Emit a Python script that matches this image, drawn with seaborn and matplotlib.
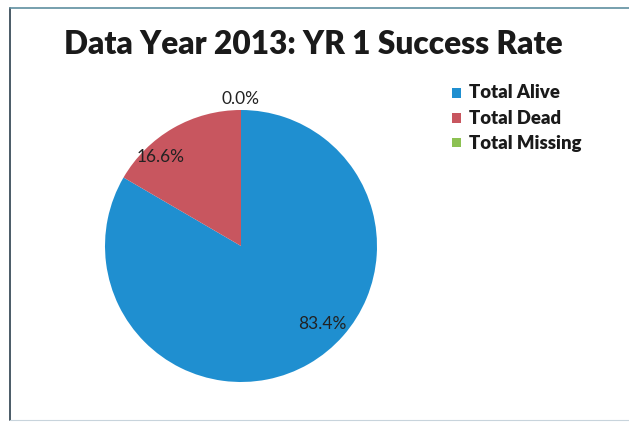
import matplotlib
matplotlib.use("Agg")
import matplotlib.pyplot as plt
from matplotlib.patches import Rectangle
from matplotlib.lines import Line2D
import numpy as np
import seaborn as sns

# Data
categories = ["Total Alive", "Total Dead", "Total Missing"]
percentages = [83.4, 16.6, 0.0]
title = "Data Year 2013: YR 1 Success Rate"

sns.set_theme(style="white")
plt.rcParams["font.family"] = ["Lato", "DejaVu Sans"]

colors = ["#1f8fd0", "#c8565f", "#8cc152"]

W, H = 629, 423
fig = plt.figure(figsize=(W / 100, H / 100), dpi=100)
fig.patch.set_facecolor("white")

# Chart frame
frame_col = "#4a5a66"
fig.add_artist(Line2D([10 / W, 10 / W], [1 - 8 / H, 1 - 420 / H], color=frame_col, lw=1.4,
                      transform=fig.transFigure))
fig.add_artist(Line2D([10 / W, 1.0], [1 - 8 / H, 1 - 8 / H], color="#5f8fa0", lw=1.2,
                      transform=fig.transFigure))
fig.add_artist(Line2D([10 / W, 1.0], [1 - 420 / H, 1 - 420 / H], color="#c8d4dc", lw=0.8,
                      transform=fig.transFigure))

# Pie axes (centre ~ (241, 246) px, radius ~136 px)
cx, cy, r = 241, 246, 136
ax = fig.add_axes([(cx - r) / W, (H - cy - r) / H, 2 * r / W, 2 * r / H])
wedges, _ = ax.pie(percentages, colors=colors, startangle=90, counterclock=False,
                   radius=1.0, wedgeprops=dict(linewidth=0))
ax.set_xlim(-1, 1)
ax.set_ylim(-1, 1)
ax.set_aspect("equal")
ax.axis("off")

# Data labels (angle in degrees, radius as fraction of pie radius)
label_pos = [(-44, 0.83), (132, 0.88), (90, 1.08)]
for val, (ang, rr) in zip(percentages, label_pos):
    a = np.deg2rad(ang)
    ax.text(rr * np.cos(a), rr * np.sin(a), f"{val:.1f}%", ha="center", va="center",
            fontsize=12.5, color="#222222", clip_on=False)

fig.text(313 / W, 1 - 45 / H, title, ha="center", va="center", fontsize=22.8,
         fontweight="heavy", color="#1a1a1a")

# Legend
leg_y = [93, 118, 143]
for cat, col, y in zip(categories, colors, leg_y):
    fig.add_artist(Rectangle(((456 - 4.5) / W, 1 - (y + 4.5) / H), 9 / W, 9 / H,
                             facecolor=col, edgecolor="none", transform=fig.transFigure))
    fig.text(469 / W, 1 - y / H, cat, ha="left", va="center", fontsize=13.3,
             fontweight="heavy", color="#1a1a1a")

fig.savefig("out.png", dpi=100, facecolor="white")
